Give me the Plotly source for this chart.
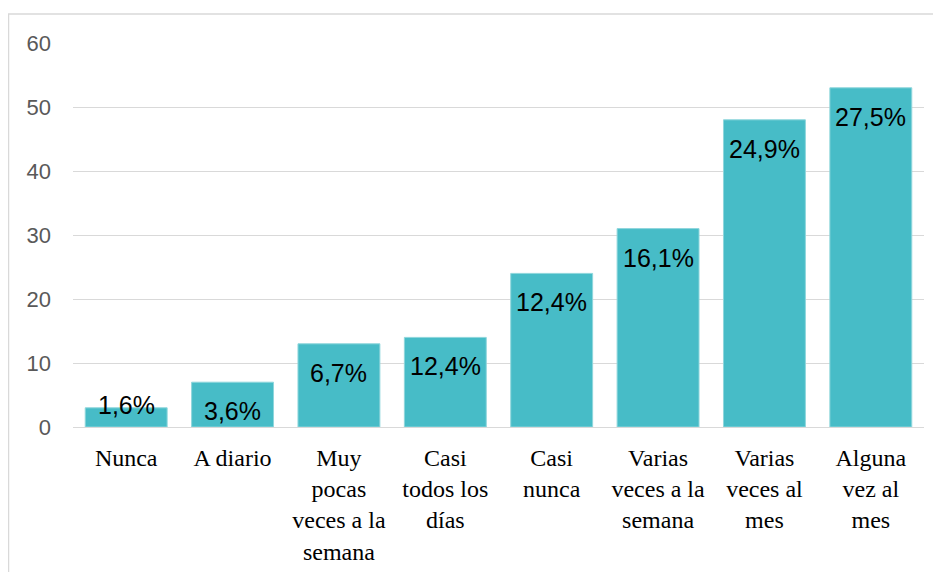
import plotly.graph_objects as go

categories = ["Nunca", "A diario", "Muy<br>pocas<br>veces a la<br>semana", "Casi<br>todos los<br>días",
              "Casi<br>nunca", "Varias<br>veces a la<br>semana", "Varias<br>veces al<br>mes", "Alguna<br>vez al<br>mes"]
values = [3, 7, 13, 14, 24, 31, 48, 53]
pct_labels = ["1,6%", "3,6%", "6,7%", "12,4%", "12,4%", "16,1%", "24,9%", "27,5%"]
y_ticks = [0, 10, 20, 30, 40, 50, 60]

BAR = "#47BCC7"

fig = go.Figure(go.Bar(
    x=categories, y=values,
    marker=dict(color=BAR, line=dict(color="#8fd6dc", width=1)),
    hoverinfo="skip",
))

annotations = []
for c, v, t in zip(categories, values, pct_labels):
    small = v < 5
    annotations.append(dict(
        x=c, y=v, xref="x", yref="y", text=t, showarrow=False,
        yanchor="middle", yshift=3 if small else -29,
        font=dict(family="Liberation Sans, Arial", size=25, color="#000000"),
    ))

fig.update_layout(
    width=933, height=564,
    margin=dict(l=65, r=17, t=35, b=145, autoexpand=False),
    paper_bgcolor="white", plot_bgcolor="white",
    bargap=0.23,
    showlegend=False,
    annotations=annotations,
    shapes=[dict(type="rect", xref="paper", yref="paper",
                 x0=-0.0758, x1=1.0188, y0=-0.42, y1=1.0755,
                 line=dict(color="#d9d9d9", width=1.5), fillcolor="rgba(0,0,0,0)", layer="below")],
    xaxis=dict(
        showgrid=False, showline=False, ticks="", ticklabelstandoff=14, automargin=False,
        tickfont=dict(family="Liberation Serif, Times New Roman", size=24, color="#000000"),
    ),
    yaxis=dict(
        range=[0, 60], tickvals=y_ticks, showgrid=True, gridcolor="#d9d9d9", gridwidth=1,
        zeroline=True, zerolinecolor="#d9d9d9", zerolinewidth=1, showline=False, ticks="",
        ticklabelstandoff=21, automargin=False,
        tickfont=dict(family="Liberation Sans, Arial", size=22, color="#595959"),
    ),
)

fig.write_html("out.html")
